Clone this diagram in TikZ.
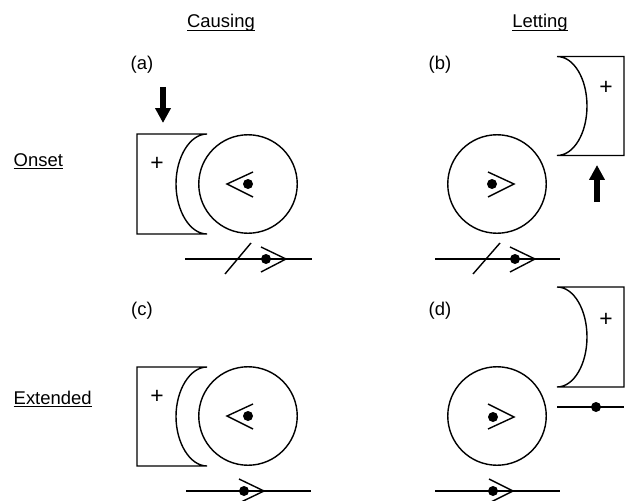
\documentclass[tikz,border=0pt]{standalone}
\usepackage{fontspec}
\setmainfont{Liberation Sans}
\usetikzlibrary{arrows.meta}
\newcommand{\hdr}[1]{\setbox0\hbox{#1}\rlap{\rule[-1.5pt]{\wd0}{0.5pt}}\box0}

\begin{document}
\begin{tikzpicture}[
  x=0.02cm, y=-0.02cm,
  font=\fontsize{10.5}{12}\selectfont,
  line width=0.8pt,
  lbl/.style={anchor=base, inner sep=0pt},
  rowlbl/.style={anchor=base west, inner sep=0pt},
  ago/.style={draw, circle, minimum size=1.97cm, inner sep=0pt},
  dot/.style={circle, fill, minimum size=0.2cm, inner sep=0pt},
  plus/.style={inner sep=0pt, font=\fontsize{13}{14}\selectfont},
  push/.style={line width=3pt, -{Triangle[width=0.3cm, length=0.3cm]}}
]
\useasboundingbox (0,0) rectangle (625,500);

% column and row headings
\node[lbl] (causing) at (221,28)    {\hdr{Causing}};
\node[lbl] (letting) at (540,28)    {\hdr{Letting}};
\node[rowlbl] (onset) at (13,166)   {\hdr{Onset}};
\node[rowlbl] (extended) at (13,404) {\hdr{Extended}};

% panel tags
\node[lbl] (tagA) at (142,70)  {(a)};
\node[lbl] (tagB) at (440,70)  {(b)};
\node[lbl] (tagC) at (142,315) {(c)};
\node[lbl] (tagD) at (440,315) {(d)};

% (a) onset causing
\draw (207,134) -- (137,134) -- (137,234) -- (207,234)
  .. controls (190,234) and (176,211) .. (176,184)
  .. controls (176,157) and (190,134) .. (207,134);
\node[plus] (plusA) at (157,164) {+};
\node[ago] (agoA) at (248,184) {};
\draw (253,172) -- (227,184) -- (253,197);
\node[dot] (eyeA) at (248,184) {};
\coordinate (pushA) at (163,87);
\coordinate (pushAend) at (163,123);
\draw[push] (pushA) -- (pushAend);
\draw (185,259) -- (312,259);
\draw (225,274) -- (251,243);
\draw (261,247) -- (286,259) -- (261,272);
\node[dot] (resA) at (266,259) {};

% (b) onset letting
\draw (557,56.5) -- (624,56.5) -- (624,155.5) -- (557,155.5)
  .. controls (574,155.5) and (587,133) .. (587,106)
  .. controls (587,79) and (574,56.5) .. (557,56.5);
\node[plus] (plusB) at (606,88) {+};
\node[ago] (agoB) at (497,184) {};
\draw (488,172) -- (514,184) -- (488,197);
\node[dot] (eyeB) at (492,184) {};
\coordinate (pushB) at (597,202);
\coordinate (pushBend) at (597,165);
\draw[push] (pushB) -- (pushBend);
\draw (435,259) -- (560,259);
\draw (473,274) -- (500,243);
\draw (510,247) -- (535,259) -- (510,272);
\node[dot] (resB) at (515,259) {};

% (c) extended causing
\draw (207,367) -- (137,367) -- (137,466) -- (207,466)
  .. controls (190,466) and (176,443) .. (176,416.5)
  .. controls (176,390) and (190,367) .. (207,367);
\node[plus] (plusC) at (157,397) {+};
\node[ago] (agoC) at (248,416) {};
\draw (253,404) -- (227,416) -- (253,429);
\node[dot] (eyeC) at (248,416) {};
\draw (186,491) -- (311,491);
\draw (239,479) -- (264,491) -- (239,503);
\node[dot] (resC) at (244,491) {};

% (d) extended letting
\draw (557,287) -- (624,287) -- (624,387) -- (557,387)
  .. controls (574,387) and (587,364) .. (587,337)
  .. controls (587,310) and (574,287) .. (557,287);
\node[plus] (plusD) at (606,320) {+};
\draw (557,407) -- (624,407);
\node[dot] (holdD) at (596,407) {};
\node[ago] (agoD) at (497,416) {};
\draw (488,404) -- (514,417) -- (488,429);
\node[dot] (eyeD) at (493,417) {};
\draw (435,491) -- (560,491);
\draw (489,479) -- (513,491) -- (489,503);
\node[dot] (resD) at (493,491) {};

\end{tikzpicture}
\end{document}
